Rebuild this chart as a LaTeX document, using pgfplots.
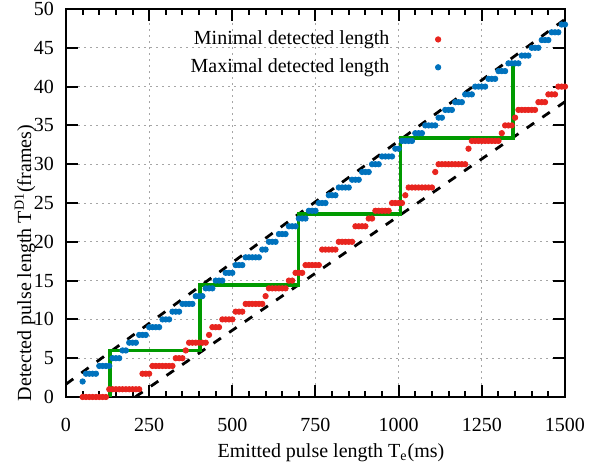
\documentclass[border=0pt]{standalone}
\usepackage{fontspec}
\setmainfont{Liberation Serif}
\usepackage{pgfplots}
\usepackage{pgfplotstable}
\pgfplotsset{compat=1.18}

\definecolor{minred}{HTML}{E8251F}
\definecolor{maxblue}{HTML}{0072BD}
\definecolor{stepgreen}{HTML}{009A00}

% x: emitted length (ms), min / max detected length (frames)
\pgfplotstableread{
x min max
50 0 2
60 0 3
70 0 3
80 0 3
90 0 3
100 0 4
110 0 4
120 0 4
130 1 4
140 1 5
150 1 5
160 1 5
170 1 6
180 1 6
190 1 7
200 1 7
210 1 7
220 1 8
230 3 8
240 3 8
250 3 9
260 4 9
270 4 9
280 4 9
290 4 10
300 4 10
310 4 10
320 4 11
330 5 11
340 5 11
350 5 12
360 6 12
370 7 12
380 7 12
390 7 13
400 7 13
410 7 13
420 7 14
430 8 14
440 9 14
450 9 15
460 9 15
470 10 15
480 10 16
490 10 16
500 10 16
510 11 17
520 11 17
530 11 17
540 12 18
550 12 18
560 12 18
570 12 18
580 12 18
590 12 19
600 13 19
610 14 20
620 14 20
630 14 20
640 14 21
650 14 21
660 14 21
670 15 22
680 15 22
690 16 22
700 16 23
710 16 23
720 17 23
730 17 24
740 17 24
750 17 24
760 17 25
770 19 25
780 19 25
790 19 26
800 19 26
810 19 26
820 20 27
830 20 27
840 20 27
850 20 27
860 20 28
870 22 28
880 22 28
890 22 29
900 22 29
910 23 29
920 23 30
930 24 30
940 24 30
950 24 31
960 24 31
970 24 31
980 25 31
990 25 32
1000 25 32
1010 25 33
1020 26 33
1030 27 33
1040 27 33
1050 27 34
1060 27 34
1070 27 34
1080 27 35
1090 27 35
1100 27 35
1110 29 35
1120 30 36
1130 30 36
1140 30 37
1150 30 37
1160 30 37
1170 30 38
1180 30 38
1190 30 38
1200 30 39
1210 32 39
1220 33 39
1230 33 40
1240 33 40
1250 33 40
1260 33 40
1270 33 41
1280 33 41
1290 33 41
1300 33 42
1310 34 42
1320 35 42
1330 35 43
1340 35 43
1350 36 43
1360 37 43
1370 37 44
1380 37 44
1390 37 44
1400 37 45
1410 37 45
1420 38 45
1430 38 46
1440 38 46
1450 39 46
1460 39 47
1470 39 47
1480 40 47
1490 40 48
1500 40 48
}\pulsedata

\begin{document}
\begin{tikzpicture}
\begin{axis}[
  scale only axis,
  width=249.5pt, height=194pt,
  xmin=0, xmax=1500, ymin=0, ymax=50,
  xtick={0,250,...,1500}, minor x tick num=4,
  ytick={0,5,...,50},
  tick align=inside,
  major tick length=6pt, minor tick length=3pt,
  axis line style={line width=1pt},
  tick style={line width=1pt, black},
  grid=major,
  grid style={gray!70, line width=0.5pt, dash pattern=on 1pt off 2pt},
  /pgf/number format/assume math mode=true,
  /pgf/number format/1000 sep={},
  xticklabel shift=7pt,
  yticklabel shift=2.5pt,
  xlabel={Emitted pulse length T\textsubscript{e}(ms)},
  ylabel={Detected pulse length T\textsuperscript{D1}(frames)},
  every axis x label/.style={at={(axis description cs:0.531,0)}, anchor=center, yshift=-28pt},
  every axis y label/.style={at={(axis description cs:-0.082,0.345)}, rotate=90, anchor=center},
  clip=false,
  legend plot pos=right,
  legend cell align=right,
  legend style={draw=none, fill=none, at={(axis description cs:0.764,0.965)}, anchor=north east,
    row sep=1.5pt, /tikz/every odd column/.append style={column sep=21pt}},
]
\addplot[only marks, mark=*, mark size=1.35pt, minred] table[x=x, y=min] {\pulsedata};
\addlegendentry{Minimal detected length}
\addplot[only marks, mark=*, mark size=1.35pt, maxblue] table[x=x, y=max] {\pulsedata};
\addlegendentry{Maximal detected length}
\addplot[black, line width=1.4pt, dash pattern=on 4.5pt off 5pt, forget plot] coordinates {(0,1.65) (1500,48.68)};
\addplot[black, line width=1.4pt, dash pattern=on 4.5pt off 5pt, forget plot] coordinates {(208,0) (1500,38.05)};
\addplot[stepgreen, line width=1.8pt, forget plot] coordinates {
  (132,0) (132,5.97) (403,5.97) (403,14.4) (699,14.4) (699,23.6)
  (1006,23.6) (1006,33.4) (1343,33.4) (1343,43.1)};
\end{axis}
\pgfresetboundingbox
\path (-33pt,-35.5pt) rectangle (268pt,198.5pt);
\end{tikzpicture}
\end{document}
